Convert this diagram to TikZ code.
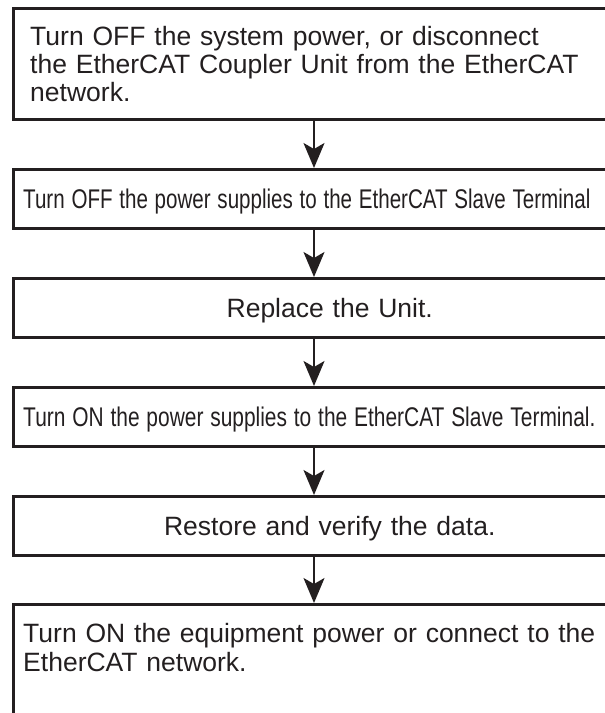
\documentclass[tikz,border=0pt]{standalone}
\usepackage{fontspec}
\usepackage{graphicx}
\newfontfamily\stepfont{Liberation Sans}
\usetikzlibrary{arrows.meta}
\definecolor{ink}{HTML}{231F20}
\newcommand{\squeezed}[2]{\fontsize{27pt}{27pt}\selectfont\scalebox{#1}[1]{#2}}
\tikzset{
  stepbox/.style={draw=ink, text=ink, line width=2.5pt, anchor=north west,
    minimum width=633pt, inner xsep=17pt, inner ysep=0pt, text width=599pt,
    align=left, font=\stepfont\fontsize{26.5pt}{28pt}\selectfont},
  tight/.style={inner xsep=10pt, text width=613pt},
  oneline/.style={text height=19pt, text depth=0pt, minimum height=59pt},
  flow/.style={draw=ink, line width=1.8pt, -{Stealth[length=25pt,width=21pt,inset=6pt]}}
}
\begin{document}
\begin{tikzpicture}[x=1pt,y=-1pt]
\useasboundingbox (0,0) rectangle (605,713);
\clip (0,0) rectangle (605,713);
\coordinate (spine) at (314,0);
% steps of the replacement
\node[stepbox, minimum height=111pt] (off) at (12,7)
  {Turn OFF the system power, or disconnect\\the EtherCAT Coupler Unit from the EtherCAT\\network.};
\node[stepbox, tight, oneline] (supoff) at (12,168)
  {\squeezed{0.762}{Turn OFF the power supplies to the EtherCAT Slave Terminal}};
\node[stepbox, align=center, oneline] (replace) at (12,277) {Replace the Unit.};
\node[stepbox, tight, oneline] (supon) at (12,386)
  {\squeezed{0.775}{Turn ON the power supplies to the EtherCAT Slave Terminal.}};
\node[stepbox, align=center, oneline] (restore) at (12,495) {Restore and verify the data.};
\node[stepbox, tight, text height=20pt, text depth=150pt, inner ysep=18pt,
  font=\stepfont\fontsize{26.5pt}{29pt}\selectfont] (on) at (12,603)
  {Turn ON the equipment power or connect to the\\EtherCAT network.};
% arrows between the steps
\foreach \a/\b in {off/supoff, supoff/replace, replace/supon, supon/restore, restore/on}{
  \draw[flow] (\a.south -| spine) -- (\b.north -| spine);
}
\end{tikzpicture}
\end{document}
